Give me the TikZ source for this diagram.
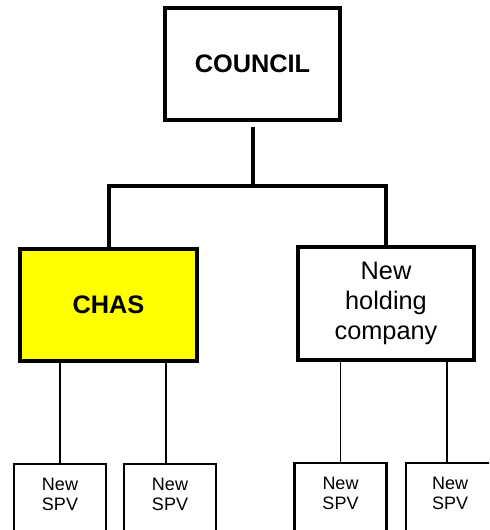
\documentclass[tikz,border=0pt]{standalone}
\usepackage{fontspec}
\setmainfont{Liberation Sans}
\definecolor{chasyellow}{RGB}{255,255,0}
\begin{document}
\begin{tikzpicture}[x=0.75pt,y=-0.75pt,
  bigbox/.style={draw=black,line width=3pt,rectangle,inner sep=0pt,align=center,
    font=\fontsize{19}{22.5}\selectfont},
  spvbox/.style={draw=black,line width=1.6pt,rectangle,inner sep=0pt,anchor=north,
    minimum width=69pt,minimum height=75pt},
  spvtext/.style={align=center,inner sep=0pt,font=\fontsize{13.5}{15}\selectfont},
  thickline/.style={line width=3pt},
  thinline/.style={line width=1pt}]
\useasboundingbox (0,0) rectangle (489,530);
\clip (0,0) rectangle (489,530);
\node[bigbox,minimum width=131.25pt,minimum height=84pt] (council) at (252.5,64) {\bfseries COUNCIL};
\node[bigbox,fill=chasyellow,minimum width=132.75pt,minimum height=84pt] (chas) at (108.5,305) {\bfseries CHAS};
\node[bigbox,minimum width=132pt,minimum height=84.75pt] (hold) at (386,303.5) {New\\holding\\company};
\coordinate (bar) at (250,186);
\draw[thickline,shorten <=3.75pt] (council.south) -- (council.south |- bar);
\draw[thickline] (chas.north) -- (chas.north |- bar) -- (hold.north |- bar) -- (hold.north);
\node[spvbox] (spv1) at (60,463) {};
\node[spvbox] (spv2) at (170,463) {};
\node[spvbox] (spv3) at (340.5,462) {};
\node[spvbox,anchor=north west,minimum width=78pt] (spv4) at (405,462) {};
\node[spvtext] (t1) at (60,494.5) {New\\SPV};
\node[spvtext] (t2) at (170,494.5) {New\\SPV};
\node[spvtext] (t3) at (340.5,493.5) {New\\SPV};
\node[spvtext] (t4) at (450,493.5) {New\\SPV};
\draw[thinline] (spv1.north) -- (spv1.north |- chas.south);
\draw[thinline] ([xshift=-3pt]spv2.north) -- ([xshift=-3pt]spv2.north |- chas.south);
\draw[thinline] (spv3.north) -- (spv3.north |- hold.south);
\draw[thinline] ([xshift=31.5pt]spv4.north west) -- ([xshift=31.5pt]spv4.north west |- hold.south);
\end{tikzpicture}
\end{document}
